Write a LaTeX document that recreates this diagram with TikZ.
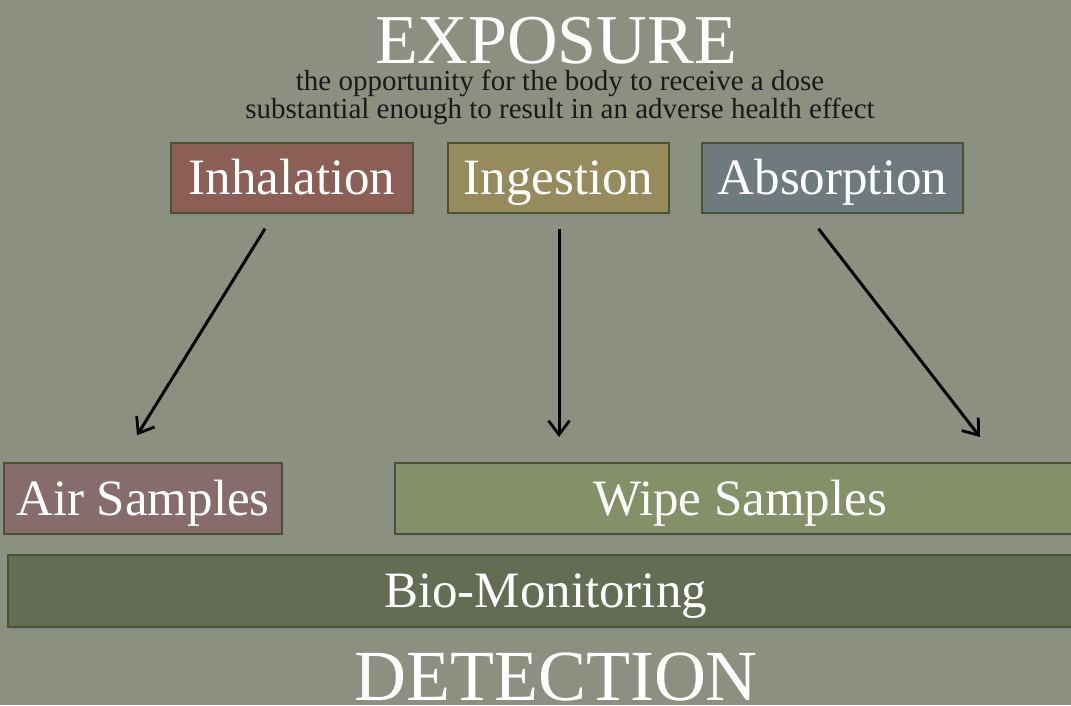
\documentclass[tikz,border=0pt]{standalone}
\usepackage{fontspec}
\setmainfont{Liberation Serif}
\usetikzlibrary{calc,shapes,arrows.meta,shadows}

\definecolor{bgcol}{RGB}{139,144,128}
\definecolor{edgecol}{RGB}{72,82,52}
\definecolor{inhcol}{RGB}{139,94,86}
\definecolor{ingcol}{RGB}{150,139,92}
\definecolor{abscol}{RGB}{110,122,126}
\definecolor{aircol}{RGB}{134,108,106}
\definecolor{wipecol}{RGB}{134,144,104}
\definecolor{biocol}{RGB}{100,109,84}

\tikzset{
  heading/.style={text=white, anchor=base, inner sep=0pt, text depth=0pt},
  route/.style={draw=edgecol, line width=1.4pt, text=white, inner sep=0pt,
    text height=33.5pt, text depth=0pt,
    drop shadow={shadow xshift=2pt, shadow yshift=-3pt, opacity=0.35},
    font=\fontsize{51}{51}\selectfont},
  flow/.style={line width=3pt, -{Straight Barb[length=14pt,width=21pt,line width=2.8pt]}}
}

\begin{document}
\begin{tikzpicture}[x=1pt,y=-1pt]
    \useasboundingbox[fill=bgcol] (0,0) rectangle (1071,705);
    % headings
    \node[heading, font=\fontsize{70}{70}\selectfont] (expo) at (556,63) {EXPOSURE};
    \node[align=center, anchor=base, inner sep=0pt, text=black!90, font=\fontsize{29}{26}\selectfont] (defn) at (560,118)
        {the opportunity for the body to receive a dose\\substantial enough to result in an adverse health effect};
    \node[heading, font=\fontsize{72}{72}\selectfont] (detect) at (556,700) {DETECTION};
    % routes of exposure
    \node[route, fill=inhcol, minimum width=242pt, minimum height=70pt] (inh) at (292,178) {Inhalation};
    \node[route, fill=ingcol, minimum width=221pt, minimum height=70pt] (ing) at (558.5,178) {Ingestion};
    \node[route, fill=abscol, minimum width=261pt, minimum height=70pt] (abs) at (832.5,178) {Absorption};
    % sampling methods
    \node[route, fill=aircol, minimum width=278pt, minimum height=71pt] (air) at (143,498.5) {Air Samples};
    \node[route, fill=wipecol, minimum width=690pt, minimum height=71pt] (wipe) at (740,498.5) {Wipe Samples};
    \node[route, fill=biocol, minimum width=1075pt, minimum height=72pt] (bio) at (545.5,591) {Bio-Monitoring};
    % arrows
    \coordinate (inhend) at ($(air.north)+(-6,-27)$);
    \coordinate (ingend) at (559,437);
    \coordinate (absend) at (980,437);
    \draw[flow] ($(inh.south)+(-27,15)$) -- (inhend);
    \draw[flow] ($(ing.south)+(0.5,15)$) -- (ingend);
    \draw[flow] ($(abs.south)+(-14,15)$) -- (absend);
\end{tikzpicture}
\end{document}
